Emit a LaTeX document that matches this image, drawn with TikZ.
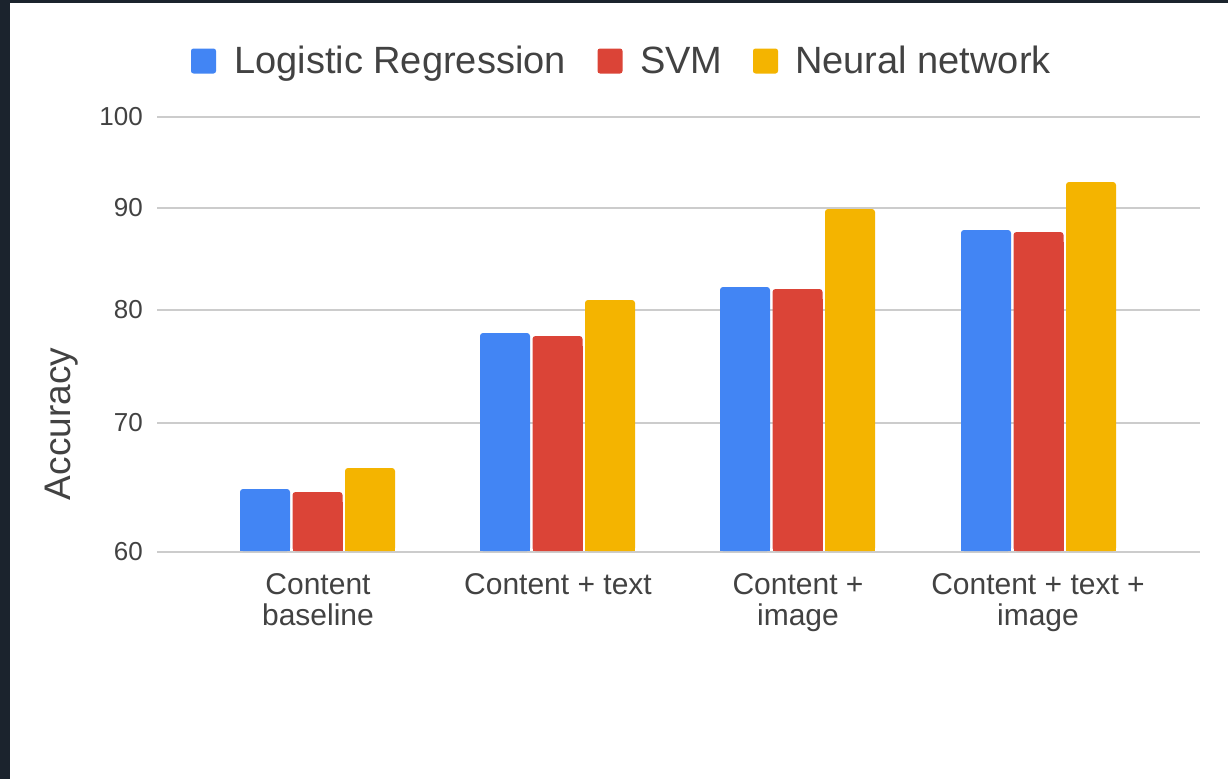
\documentclass[tikz,border=0pt]{standalone}
\usepackage{fontspec}
\setmainfont{Liberation Sans}
\definecolor{lrblue}{HTML}{4285F4}
\definecolor{svmred}{HTML}{DB4437}
\definecolor{nnyellow}{HTML}{F4B400}
\definecolor{frameclr}{HTML}{1B232D}
\definecolor{gridclr}{HTML}{CCCCCC}
\definecolor{txt}{HTML}{424242}
\begin{document}
\begin{tikzpicture}[x=1pt,y=-1pt,
  ticklbl/.style={anchor=east, text=txt, font=\fontsize{26}{30}\selectfont, inner sep=0pt},
  catlbl/.style={anchor=north, text=txt, font=\fontsize{30}{31}\selectfont, align=center, inner sep=0pt},
  leglbl/.style={anchor=base west, text=txt, font=\fontsize{38}{40}\selectfont, inner sep=0pt},
  keybox/.style={minimum width=25pt, minimum height=25pt, rounded corners=2.5pt, inner sep=0pt},
  gridline/.style={draw=gridclr, line width=1.6pt}]
\useasboundingbox (0,0) rectangle (1228,779);
\fill[frameclr] (0,0) rectangle (1228,779);
\fill[white] (10,3) rectangle (1228,779);
% legend
\node[keybox, fill=lrblue] (k1) at (203.5,61) {};
\node[leglbl] (l1) at (234,73) {Logistic Regression};
\node[keybox, fill=svmred] (k2) at (610,61) {};
\node[leglbl] (l2) at (640,73) {SVM};
\node[keybox, fill=nnyellow] (k3) at (765.5,61) {};
\node[leglbl] (l3) at (795,73) {Neural network};
% grid and ticks
\foreach \v/\yy in {100/117, 90/208, 80/310, 70/423, 60/552} {
  \draw[gridline] (157,\yy) -- (1200,\yy);
  \node[ticklbl] (t\v) at (143,\yy) {\v};
}
\node[rotate=90, text=txt, font=\fontsize{37}{40}\selectfont, inner sep=0pt] (ylab) at (62,424) {Accuracy};
% bars
\foreach \gx/\tb/\tr/\ty in {240/489/492/468, 480/333/336/300, 720/287/289/209, 961/230/232/182} {
  \foreach \off/\top/\clr in {0/\tb/lrblue, 52.5/\tr/svmred, 105/\ty/nnyellow} {
    \fill[\clr, rounded corners=3pt] (\gx+\off,551) rectangle (\gx+\off+50,\top);
    \fill[\clr] (\gx+\off,551) rectangle (\gx+\off+50,\top+10);
  }
}
% category labels
\node[catlbl] (c1) at (318,573) {Content\\baseline};
\node[catlbl] (c2) at (558,573) {Content + text};
\node[catlbl] (c3) at (798,573) {Content +\\image};
\node[catlbl] (c4) at (1038,573) {Content + text +\\image};
\end{tikzpicture}
\end{document}
